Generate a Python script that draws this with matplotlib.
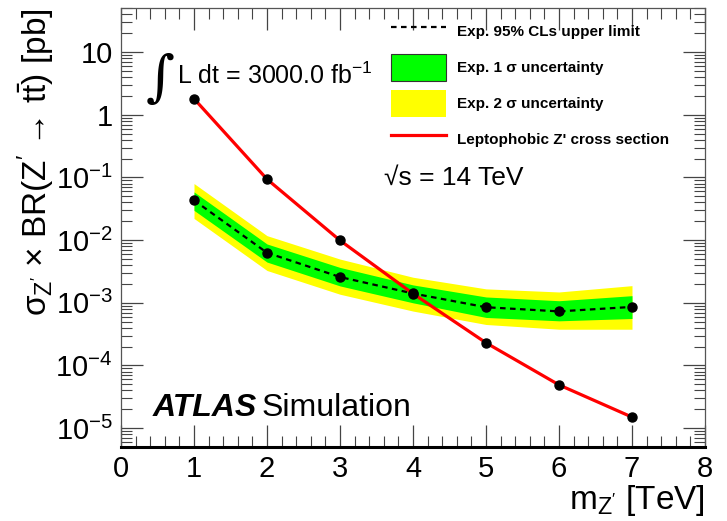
import numpy as np
import matplotlib
matplotlib.use("Agg")
import matplotlib.pyplot as plt
from matplotlib.lines import Line2D
from matplotlib.patches import Patch
from matplotlib.ticker import FixedLocator, LogLocator, MultipleLocator, NullFormatter

plt.rcParams['font.family'] = ['Liberation Sans', 'DejaVu Sans']
plt.rcParams['mathtext.fontset'] = 'custom'
plt.rcParams['mathtext.rm'] = 'Liberation Sans'
plt.rcParams['mathtext.it'] = 'Liberation Sans:italic'
plt.rcParams['mathtext.bf'] = 'Liberation Sans:bold'

# data
mass = [1, 2, 3, 4, 5, 6, 7]
xsec = [1.81, 0.094, 0.0099, 0.0014, 2.3e-4, 4.9e-5, 1.5e-5]
exp_limit = [0.0433, 0.0063, 0.00258, 0.00141, 8.5e-4, 7.3e-4, 8.6e-4]
one_sig_up = [0.0589, 0.00869, 0.00367, 0.00193, 0.00124, 0.00108, 0.00130]
one_sig_dn = [0.0299, 0.00447, 0.00186, 0.00100, 5.84e-4, 5.16e-4, 5.62e-4]
two_sig_up = [0.0801, 0.0118, 0.00499, 0.00256, 0.00167, 0.00149, 0.00188]
two_sig_dn = [0.0222, 0.00328, 0.00137, 7.38e-4, 4.51e-4, 3.79e-4, 3.79e-4]

ytick_vals = [1e-5, 1e-4, 1e-3, 1e-2, 1e-1, 1, 10]
ytick_labels = [r'$10^{-5}$', r'$10^{-4}$', r'$10^{-3}$', r'$10^{-2}$', r'$10^{-1}$', '1', '10']

fig = plt.figure(figsize=(7.27, 5.21), dpi=100)
ax = fig.add_axes([121 / 727, 1 - 447 / 521, 584 / 727, 439 / 521])

ax.fill_between(mass, two_sig_dn, two_sig_up, color='#ffff00', lw=0, zorder=1)
ax.fill_between(mass, one_sig_dn, one_sig_up, color='#00ff00', lw=0, zorder=2)
ax.plot(mass, exp_limit, color='black', ls=(0, (2.5, 2)), lw=1.6, zorder=3)
ax.plot(mass, xsec, color='#ff0000', lw=2.3, zorder=4)
ax.plot(mass, exp_limit, 'o', color='black', ms=6.5, zorder=5)
ax.plot(mass, xsec, 'o', color='black', ms=6.5, zorder=5)

ax.set_yscale('log')
ax.set_xlim(0, 8)
ax.set_ylim(5.0e-6, 50.7)

# axis ticks, ROOT style (inside, all sides)
ax.xaxis.set_major_locator(MultipleLocator(1))
ax.xaxis.set_minor_locator(MultipleLocator(0.2))
ax.yaxis.set_major_locator(FixedLocator(ytick_vals))
ax.set_yticklabels(ytick_labels)
ax.yaxis.set_minor_locator(LogLocator(base=10, subs=np.arange(2, 10)))
ax.yaxis.set_minor_formatter(NullFormatter())
ax.tick_params(which='both', direction='in', top=True, right=True, color='#444444')
ax.tick_params(which='major', length=16, width=0.9, labelsize=21, pad=6)
ax.tick_params(which='minor', length=8, width=0.8)
ax.tick_params(axis='x', which='major', pad=6)

for side in ['left', 'top', 'right']:
    ax.spines[side].set_linewidth(0.9)
    ax.spines[side].set_color('#555555')
ax.spines['bottom'].set_linewidth(2.2)

ax.set_xlabel(r"m$_{\mathrm{Z}^{\prime}}$ [TeV]", fontsize=24, loc='right')
ax.set_ylabel("\u03c3" + r"$_{\mathrm{Z}^{\prime}}$" + " \u00d7 BR(Z" + r"$^{\prime}$" + " \u2192 t" + r"$\bar{\mathrm{t}}$) [pb]",
              fontsize=24, loc='top')
ax.yaxis.set_label_coords(-0.11, 1.0)
ax.xaxis.set_label_coords(1.0, -0.082)

# annotations
fig.text(146 / 727, 1 - 80 / 521, '\u222b', fontsize=40, family='DejaVu Serif', va='center')
fig.text(177 / 727, 1 - 76 / 521, r'L dt = 3000.0 fb$^{-1}$', fontsize=18, va='center')
fig.text(384 / 727, 1 - 178 / 521, '\u221as = 14 TeV', fontsize=19, va='center')
fig.text(153 / 727, 1 - 408 / 521, 'ATLAS', fontsize=23, weight='bold', style='italic', va='center')
fig.text(262 / 727, 1 - 408 / 521, 'Simulation', fontsize=23, va='center')

handles = [
    Line2D([], [], color='black', ls=(0, (2.5, 2)), lw=1.6),
    Patch(facecolor='#00ff00', edgecolor='#333333', lw=0.8),
    Patch(facecolor='#ffff00', edgecolor='none'),
    Line2D([], [], color='#ff0000', lw=2.3),
]
labels = ['Exp. 95% CLs upper limit', 'Exp. 1 \u03c3 uncertainty',
          'Exp. 2 \u03c3 uncertainty', "Leptophobic Z' cross section"]
leg = ax.legend(handles, labels, loc='upper left', bbox_to_anchor=(391 / 727, 1 - 18 / 521),
                bbox_transform=fig.transFigure, frameon=False, fontsize=11,
                handlelength=3.6, handleheight=2.3, labelspacing=0.62, handletextpad=0.75,
                borderpad=0, borderaxespad=0)
for t in leg.get_texts():
    t.set_fontweight('bold')

fig.savefig('out.png', dpi=100)
